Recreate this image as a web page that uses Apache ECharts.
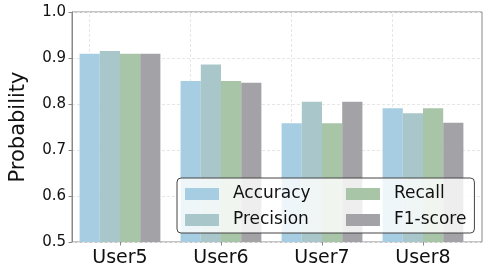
<!DOCTYPE html>
<html>
<head>
<meta charset="utf-8">
<script src="https://cdn.jsdelivr.net/npm/echarts@6/dist/echarts.min.js"></script>
<style>html,body{margin:0;padding:0;background:#fff;}#c{width:489px;height:273px;}</style>
</head>
<body>
<div id="c"></div>
<script>
const categories = ['User5', 'User6', 'User7', 'User8'];
const accuracy  = [0.909, 0.850, 0.758, 0.791];
const precision = [0.915, 0.886, 0.805, 0.780];
const recall    = [0.909, 0.850, 0.758, 0.791];
const f1score   = [0.909, 0.846, 0.805, 0.759];
const seriesNames = ['Accuracy', 'Precision', 'Recall', 'F1-score'];
const seriesData = [accuracy, precision, recall, f1score];
const colors = ['#a6cde2', '#a9c7ca', '#a9c5a8', '#a3a3a7'];
const yTicks = [0.5, 0.6, 0.7, 0.8, 0.9, 1.0];

const FONT = 'DejaVu Sans';
const chart = echarts.init(document.getElementById('c'), null, {renderer: 'canvas'});

const series = seriesNames.map((name, i) => {
  const s = {
    name: name,
    type: 'bar',
    xAxisIndex: 1,
    yAxisIndex: 1,
    data: seriesData[i],
    barWidth: '20%',
    barGap: '0%',
    itemStyle: {color: colors[i]},
    silent: true,
    z: 3
  };
  if (i === 0) {
    s.markLine = {
      silent: true,
      symbol: 'none',
      z: 1,
      label: {show: false},
      lineStyle: {color: '#e6e6e6', type: [3, 2], width: 1},
      data: categories.map(c => ({xAxis: c}))
    };
  }
  return s;
});

const legendText = (w) => {
  const t = {padding: [0, 0, 0, 9], fontSize: 17, fontFamily: FONT, color: '#111'};
  if (w) t.width = w;
  return t;
};

chart.setOption({
  animation: false,
  backgroundColor: '#fff',
  textStyle: {fontFamily: FONT},
  grid: [
    {left: 59, top: 12, width: 423, height: 230, show: true, borderColor: '#888', borderWidth: 1, backgroundColor: 'transparent', z: 0},
    {left: 69.5, top: 12, width: 404, height: 230}
  ],
  xAxis: [
    {gridIndex: 0, type: 'value', min: 0, max: 1, show: false},
    {
      gridIndex: 1, type: 'category', data: categories,
      axisLine: {show: false},
      axisTick: {show: true, alignWithLabel: true, length: 3.5, lineStyle: {color: '#888'}},
      axisLabel: {fontSize: 19, fontFamily: FONT, color: '#111', margin: 7},
      splitLine: {show: false}
    }
  ],
  yAxis: [
    {
      gridIndex: 0, type: 'value', min: 0.5, max: 1.0, interval: 0.1,
      name: 'Probability', nameLocation: 'middle', nameRotate: 90, nameGap: 43,
      nameTextStyle: {fontSize: 21, fontFamily: FONT, color: '#111'},
      axisLine: {show: true, lineStyle: {color: '#888'}},
      axisTick: {show: true, length: 3.5, lineStyle: {color: '#888'}},
      axisLabel: {fontSize: 15, fontFamily: FONT, color: '#111', margin: 6, formatter: v => v.toFixed(1)},
      splitLine: {show: true, lineStyle: {color: '#e6e6e6', type: [3, 2], width: 1}}
    },
    {gridIndex: 1, type: 'value', min: 0.5, max: 1.0, show: false}
  ],
  legend: {
    left: 177, top: 178, width: 295,
    orient: 'horizontal',
    padding: [6, 8, 3, 8],
    itemGap: 6,
    itemWidth: 34, itemHeight: 12,
    backgroundColor: 'rgba(255,255,255,0.82)',
    borderColor: '#444', borderWidth: 1, borderRadius: 4,
    icon: 'rect',
    selectedMode: false,
    z: 10,
    textStyle: {fontSize: 17, fontFamily: FONT, color: '#111', lineHeight: 20},
    data: [
      {name: 'Accuracy', textStyle: legendText(107)},
      {name: 'Recall', textStyle: legendText(null)},
      {name: 'Precision', textStyle: legendText(107)},
      {name: 'F1-score', textStyle: legendText(null)}
    ]
  },
  series: series
});
</script>
</body>
</html>
